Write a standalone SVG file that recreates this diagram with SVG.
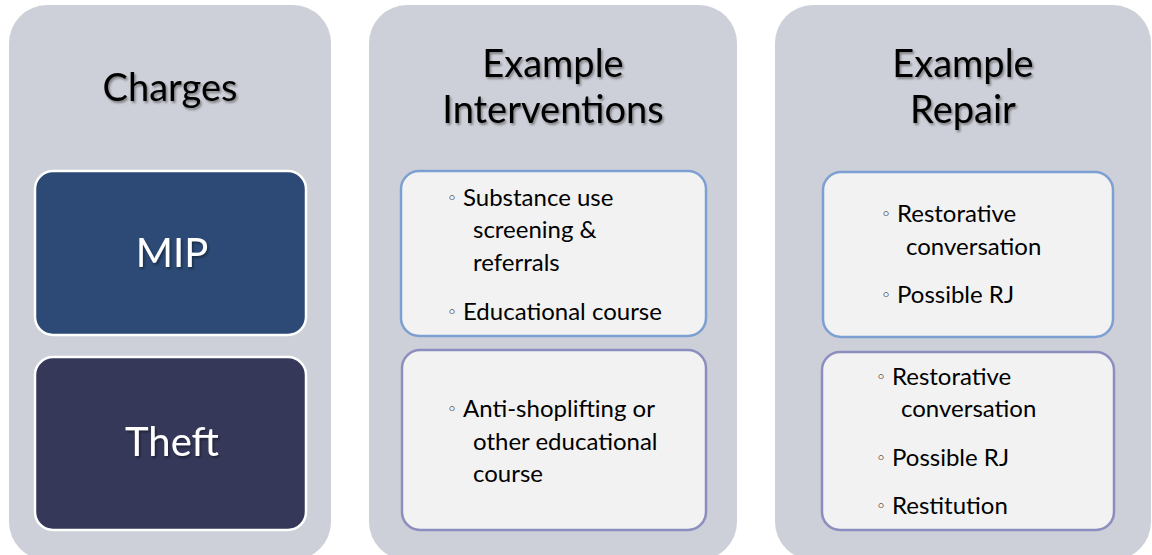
<svg xmlns="http://www.w3.org/2000/svg" width="1152" height="555" viewBox="0 0 1152 555">
<defs>
<filter id="sh" x="-20%" y="-20%" width="140%" height="140%">
<feDropShadow dx="1.5" dy="2" stdDeviation="1.2" flood-color="#000" flood-opacity="0.4"/>
</filter>
<style>
.panel{fill:#CDD0D8}
.title{font-family:Lato,"Liberation Sans",sans-serif;font-size:38px;fill:#000;text-anchor:middle}
.charge{stroke:#fff;stroke-width:2.5}
.ctext{font-family:Lato,"Liberation Sans",sans-serif;font-size:40px;fill:#fff;text-anchor:middle}
.box1{fill:#F2F2F2;stroke:#7E9FD2;stroke-width:2.5}
.box2{fill:#F2F2F2;stroke:#8B8EBE;stroke-width:2.5}
.item{font-family:Lato,"Liberation Sans",sans-serif;font-size:24px;fill:#000}
.bul{font-family:"DejaVu Sans",sans-serif;font-size:17px;fill:#000}
</style>
</defs>
<rect width="1152" height="555" fill="#fff"/>
<g id="panel-charges">
<rect class="panel" x="9" y="5" width="322" height="555" rx="38"/>
<text class="title" x="170" y="101" filter="url(#sh)">Charges</text>
</g>
<g id="node-mip">
<rect class="charge" x="35" y="171" width="271" height="164" rx="18" fill="#2C4A75"/>
<text class="ctext" x="172" y="267" filter="url(#sh)">MIP</text>
</g>
<g id="node-theft">
<rect class="charge" x="35" y="357" width="271" height="173" rx="18" fill="#363859"/>
<text class="ctext" x="172" y="456" filter="url(#sh)">Theft</text>
</g>
<g id="panel-interventions">
<rect class="panel" x="369" y="5" width="368" height="555" rx="38"/>
<text class="title" x="553" y="77" filter="url(#sh)">Example</text>
<text class="title" x="553" y="123" filter="url(#sh)">Interventions</text>
</g>
<g id="node-int-mip">
<rect class="box1" x="401" y="171" width="305" height="165" rx="18"/>
<text class="bul" x="447" y="204">◦</text>
<text class="item" x="463" y="206">Substance use</text>
<text class="item" x="473" y="238">screening &amp;</text>
<text class="item" x="473" y="271">referrals</text>
<text class="bul" x="447" y="318">◦</text>
<text class="item" x="463" y="320">Educational course</text>
</g>
<g id="node-int-theft">
<rect class="box2" x="402" y="350" width="304" height="180" rx="18"/>
<text class="bul" x="447" y="415">◦</text>
<text class="item" x="463" y="417">Anti-shoplifting or</text>
<text class="item" x="473" y="450">other educational</text>
<text class="item" x="473" y="482">course</text>
</g>
<g id="panel-repair">
<rect class="panel" x="775" y="5" width="376" height="555" rx="38"/>
<text class="title" x="963" y="77" filter="url(#sh)">Example</text>
<text class="title" x="963" y="123" filter="url(#sh)">Repair</text>
</g>
<g id="node-rep-mip">
<rect class="box1" x="823" y="172" width="290" height="165" rx="18"/>
<text class="bul" x="881" y="220">◦</text>
<text class="item" x="897" y="222">Restorative</text>
<text class="item" x="906" y="255">conversation</text>
<text class="bul" x="881" y="301">◦</text>
<text class="item" x="897" y="303">Possible RJ</text>
</g>
<g id="node-rep-theft">
<rect class="box2" x="822" y="352" width="292" height="178" rx="18"/>
<text class="bul" x="876" y="383">◦</text>
<text class="item" x="892" y="385">Restorative</text>
<text class="item" x="901" y="417">conversation</text>
<text class="bul" x="876" y="464">◦</text>
<text class="item" x="892" y="466">Possible RJ</text>
<text class="bul" x="876" y="512">◦</text>
<text class="item" x="892" y="514">Restitution</text>
</g>
<g id="connectors"></g>
</svg>
